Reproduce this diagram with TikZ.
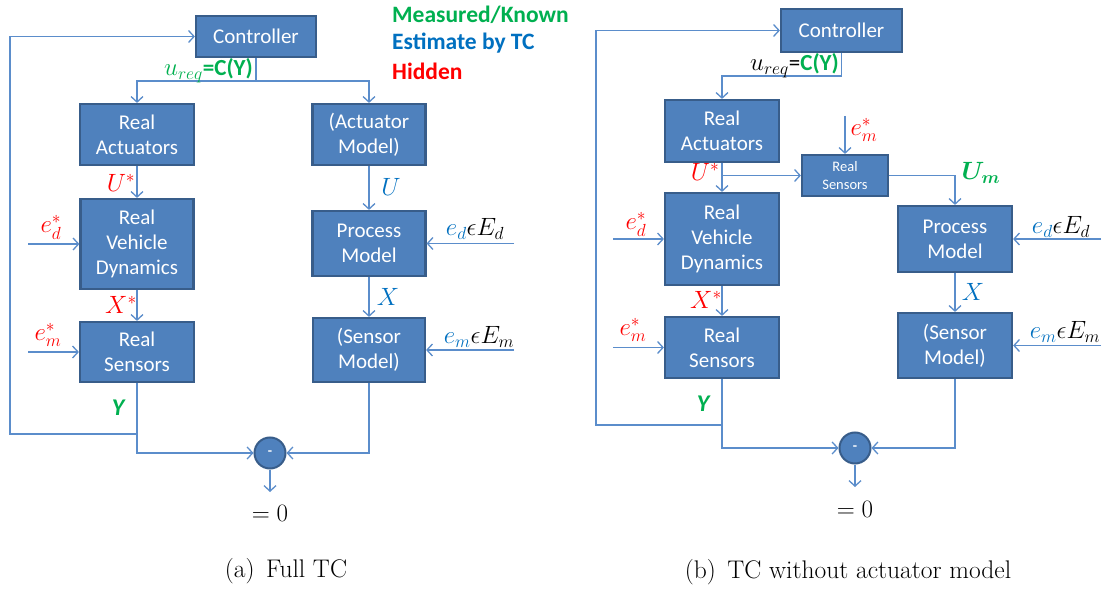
\documentclass[tikz,border=0pt]{standalone}
\usepackage{fix-cm}
\usepackage{amsmath}
\usepackage{fontspec}
\newfontfamily\boxfont{Carlito}
\usetikzlibrary{arrows.meta,calc}

\definecolor{boxfill}{HTML}{4F81BD}
\definecolor{boxedge}{HTML}{385D8A}
\definecolor{wirec}{HTML}{5B8DCB}
\definecolor{kgreen}{HTML}{00B050}
\definecolor{kblue}{HTML}{0070C0}
\definecolor{kred}{HTML}{FF0000}

\tikzset{
  blk/.style={rectangle, draw=boxedge, fill=boxfill, line width=2.2pt, text=white,
    align=center, inner sep=0pt, font=\boxfont\fontsize{21}{25}\selectfont},
  smallblk/.style={blk, font=\boxfont\fontsize{14.5}{17.5}\selectfont},
  sumc/.style={circle, draw=boxedge, fill=boxfill, line width=2pt, text=white,
    minimum size=31pt, inner sep=0pt, font=\boxfont\bfseries\fontsize{14}{16}\selectfont},
  wire/.style={draw=wirec, line width=1.3pt},
  arr/.style={wire, -{Straight Barb[length=5.5pt,width=12pt]}},
  mlab/.style={inner sep=0pt, font=\fontsize{25}{28}\selectfont},
  legend/.style={inner sep=0pt, anchor=west, font=\boxfont\bfseries\fontsize{23.5}{28}\selectfont},
  capt/.style={inner sep=0pt, font=\fontsize{25.5}{30}\selectfont},
}

\begin{document}
\begin{tikzpicture}[x=1pt,y=-1pt]
\useasboundingbox (0,0) rectangle (1108,593);
\fill[white] (0,0) rectangle (1108,593);

% ---------- (a) Full TC ----------
\node[blk, minimum width=120, minimum height=41] (Lctrl) at (256,36.5) {Controller};
\node[blk, minimum width=114, minimum height=61] (Lra)   at (137,134.5) {Real\\Actuators};
\node[blk, minimum width=113, minimum height=61] (Lam)   at (369,134.5) {(Actuator\\Model)};
\node[blk, minimum width=113, minimum height=90] (Lrvd)  at (137,244) {Real\\Vehicle\\Dynamics};
\node[blk, minimum width=113, minimum height=65] (Lpm)   at (369,243.5) {Process\\Model};
\node[blk, minimum width=114, minimum height=60] (Lrs)   at (137,352) {Real\\Sensors};
\node[blk, minimum width=112, minimum height=64] (Lsm)   at (369,350) {(Sensor\\Model)};
\node[sumc] (Lsum) at (270,453) {-};

\coordinate (Lsplit) at (256,81);
\coordinate (Ledin) at (28,244);
\coordinate (Lemin) at (28,352);
\coordinate (LEdin) at (514,243.5);
\coordinate (LEmin) at (514,350);
\coordinate (Lfb) at (137,434);
\coordinate (Lcorner) at (10,434);
\coordinate (Lout) at (270,492);

\draw[wire] (Lctrl.south) -- (Lsplit);
\draw[arr] (Lsplit) -| (Lra.north);
\draw[arr] (Lsplit) -| (Lam.north);
\draw[arr] (Lra.south) -- (Lrvd.north);
\draw[arr] (Lrvd.south) -- (Lrs.north);
\draw[arr] (Lam.south) -- (Lpm.north);
\draw[arr] (Lpm.south) -- (Lsm.north);
\draw[arr] (Ledin) -- (Lrvd.west |- Ledin);
\draw[arr] (Lemin) -- (Lrs.west |- Lemin);
\draw[arr] (LEdin) -- (Lpm.east |- LEdin);
\draw[arr] (LEmin) -- (Lsm.east |- LEmin);
\draw[arr] (Lfb) -- (Lcorner) |- (Lctrl.west);
\draw[arr] (Lrs.south) |- (Lsum.west);
\draw[arr] (Lsm.south) |- (Lsum.east);
\draw[arr] (Lsum.south) -- (Lout);

\node[mlab, anchor=east] (Lureq) at (253,71)
  {\color{kgreen}$u_{req}${\boxfont\bfseries\fontsize{23}{26}\selectfont =C(Y)}};
\node[mlab, text=kred] (LUs) at (121,183) {$U^*$};
\node[mlab, text=kblue] (LU) at (391,187) {$U$};
\node[mlab, text=kred] (Leds) at (51,227) {$e_d^*$};
\node[mlab, text=kred] (LXs) at (121,305) {$X^*$};
\node[mlab, text=kblue] (LX) at (388,297) {$X$};
\node[mlab, text=kred] (Lems) at (48,335) {$e_m^*$};
\node[mlab] (Led) at (475,229) {$\textcolor{kblue}{e_d}\epsilon E_d$};
\node[mlab] (Lem) at (479,337) {$\textcolor{kblue}{e_m}\epsilon E_m$};
\node[inner sep=0pt, text=kgreen, font=\boxfont\bfseries\itshape\fontsize{24}{27}\selectfont] (LY) at (118,408) {Y};
\node[mlab] (Lzero) at (270,513) {$=0$};
\node[capt] (Lcap) at (286,571) {(a)\hspace{0.45em}Full TC};

\node[legend, text=kgreen] (Lg1) at (392,15) {Measured/Known};
\node[legend, text=kblue]  (Lg2) at (392,43) {Estimate by TC};
\node[legend, text=kred]   (Lg3) at (392,71) {Hidden};

% ---------- (b) TC without actuator model ----------
\node[blk, minimum width=121, minimum height=43] (Rctrl) at (841.5,30.5) {Controller};
\node[blk, minimum width=114, minimum height=62] (Rra)   at (722,131) {Real\\Actuators};
\node[smallblk, minimum width=86, minimum height=41] (Rsrs) at (845,175.5) {Real\\Sensors};
\node[blk, minimum width=114, minimum height=92] (Rrvd)  at (722,239) {Real\\Vehicle\\Dynamics};
\node[blk, minimum width=114, minimum height=66] (Rpm)   at (955,239) {Process\\Model};
\node[blk, minimum width=114, minimum height=61] (Rrs)   at (722,347.5) {Real\\Sensors};
\node[blk, minimum width=114, minimum height=65] (Rsm)   at (955,345.5) {(Sensor\\Model)};
\node[sumc] (Rsum) at (855,448) {-};

\coordinate (Rturn) at (841.5,76);
\coordinate (Rbr) at (722,175.5);
\coordinate (Rsin) at (845,116);
\coordinate (Redin) at (613,239);
\coordinate (Remin) at (613,347.5);
\coordinate (REdin) at (1101,239);
\coordinate (REmin) at (1101,345.5);
\coordinate (Rfb) at (722,425);
\coordinate (Rcorner) at (596,425);
\coordinate (Rout) at (855,487);

\draw[wire] (Rctrl.south) -- (Rturn);
\draw[arr] (Rturn) -| (Rra.north);
\draw[arr] (Rra.south) -- (Rrvd.north);
\draw[arr] (Rbr) -- (Rsrs.west);
\draw[arr] (Rsin) -- (Rsrs.north);
\draw[arr] (Rsrs.east) -| (Rpm.north);
\draw[arr] (Rrvd.south) -- (Rrs.north);
\draw[arr] (Rpm.south) -- (Rsm.north);
\draw[arr] (Redin) -- (Rrvd.west |- Redin);
\draw[arr] (Remin) -- (Rrs.west |- Remin);
\draw[arr] (REdin) -- (Rpm.east |- REdin);
\draw[arr] (REmin) -- (Rsm.east |- REmin);
\draw[arr] (Rfb) -- (Rcorner) |- (Rctrl.west);
\draw[arr] (Rrs.south) |- (Rsum.west);
\draw[arr] (Rsm.south) |- (Rsum.east);
\draw[arr] (Rsum.south) -- (Rout);

\node[mlab, anchor=east] (Rureq) at (839,66)
  {$u_{req}${\boxfont\fontsize{23}{26}\selectfont =}{\color{kgreen}\boxfont\bfseries\fontsize{23}{26}\selectfont C(Y)}};
\node[mlab, text=kred] (Rems0) at (864,130) {$e_m^*$};
\node[mlab, text=kred] (RUs) at (705,172) {$U^*$};
\node[mlab, text=kgreen] (RUm) at (981,173) {$\boldsymbol{U_m}$};
\node[mlab, text=kred] (Reds) at (636,224) {$e_d^*$};
\node[mlab, text=kred] (RXs) at (706,300) {$X^*$};
\node[mlab, text=kblue] (RX) at (973,292) {$X$};
\node[mlab, text=kred] (Rems) at (633,330) {$e_m^*$};
\node[mlab] (Red) at (1061,227) {$\textcolor{kblue}{e_d}\epsilon E_d$};
\node[mlab] (Rem) at (1065,332) {$\textcolor{kblue}{e_m}\epsilon E_m$};
\node[inner sep=0pt, text=kgreen, font=\boxfont\bfseries\itshape\fontsize{24}{27}\selectfont] (RY) at (703,404) {Y};
\node[mlab] (Rzero) at (855,509) {$=0$};
\node[capt] (Rcap) at (848,572) {(b)\hspace{0.45em}TC without actuator model};
\end{tikzpicture}
\end{document}
